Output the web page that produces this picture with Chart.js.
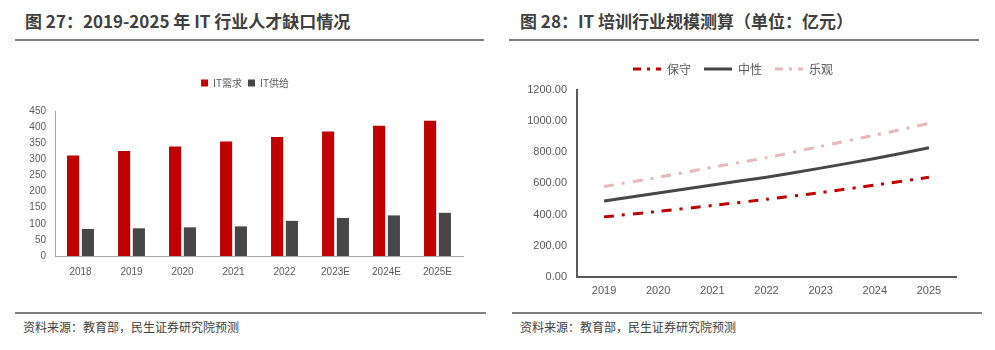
<!DOCTYPE html>
<html>
<head>
<meta charset="utf-8">
<script src="https://cdn.jsdelivr.net/npm/chart.js@4"></script>
<style>
  body { margin: 0; width: 995px; height: 350px; background: #fff; position: relative; overflow: hidden;
    font-family: "Noto Sans CJK SC", "Liberation Sans", sans-serif; }
  .title { position: absolute; top: 8px; font-size: 17px; font-weight: bold; color: #404040; white-space: nowrap; }
  .rule { position: absolute; height: 2px; background: #7f7f7f; }
  .src { position: absolute; top: 318px; font-size: 12px; color: #404040; }
  .box { position: absolute; }
</style>
</head>
<body>
<div class="title" style="left:25px">图 27：2019-2025 年 IT 行业人才缺口情况</div>
<div class="title" style="left:520px">图 28：IT 培训行业规模测算（单位：亿元）</div>
<div class="rule" style="left:15px; width:469px; top:39px"></div>
<div class="rule" style="left:509px; width:470px; top:39px"></div>
<div class="rule" style="left:15px; width:471px; top:312px"></div>
<div class="rule" style="left:512px; width:470px; top:312px"></div>
<div class="src" style="left:23px">资料来源：教育部，民生证券研究院预测</div>
<div class="src" style="left:520px">资料来源：教育部，民生证券研究院预测</div>

<div class="box" style="left:15px; top:50px; width:470px; height:238px"><canvas id="gapChart"></canvas></div>
<div class="box" style="left:510px; top:50px; width:470px; height:256px"><canvas id="marketChart"></canvas></div>

<script>
// left chart: IT talent demand vs supply (万人)
const gapYears = ['2018', '2019', '2020', '2021', '2022', '2023E', '2024E', '2025E'];
const itDemand = [312, 326, 340, 355, 369, 386, 404, 420];
const itSupply = [84, 86, 89, 92, 109, 118, 126, 134];

// right chart: IT training market size (亿元)
const marketYears = ['2019', '2020', '2021', '2022', '2023', '2024', '2025'];
const conservative = [385, 420, 458, 498, 541, 589, 639];
const neutral = [487, 538, 590, 640, 698, 760, 829];
const optimistic = [580, 639, 704, 765, 838, 910, 985];

const tickFont = { family: '"Liberation Sans", sans-serif', size: 10 };

// push the plot area down below the legend
const legendGap = (extra) => ({
  id: 'legendGap',
  beforeInit(chart) {
    const fit = chart.legend.fit;
    chart.legend.fit = function () {
      fit.bind(chart.legend)();
      this.height += extra;
    };
  }
});

new Chart(document.getElementById('gapChart').getContext('2d'), {
  type: 'bar',
  data: {
    labels: gapYears,
    datasets: [
      { label: 'IT需求', data: itDemand, backgroundColor: '#C00000' },
      { label: 'IT供给', data: itSupply, backgroundColor: '#474747' }
    ]
  },
  options: {
    responsive: true,
    maintainAspectRatio: false,
    animation: false,
    layout: { padding: { left: 12, right: 22, top: 22, bottom: 0 } },
    datasets: { bar: { categoryPercentage: 0.58, barPercentage: 0.82 } },
    plugins: {
      legend: {
        position: 'top',
        labels: { boxWidth: 7, boxHeight: 7, padding: 6, color: '#595959',
          font: { family: '"Noto Sans CJK SC", sans-serif', size: 10 } }
      },
      tooltip: { enabled: false }
    },
    scales: {
      x: {
        grid: { display: false, drawTicks: false },
        border: { color: '#a6a6a6', width: 1 },
        ticks: { color: '#595959', font: tickFont, padding: 10 }
      },
      y: {
        min: 0, max: 450,
        grid: { display: false, drawTicks: false },
        border: { color: '#a6a6a6', width: 1 },
        afterFit: (s) => { s.width = 28; },
        ticks: { stepSize: 50, color: '#595959', font: tickFont, padding: 9 }
      }
    }
  },
  plugins: [legendGap(13)]
});

new Chart(document.getElementById('marketChart').getContext('2d'), {
  type: 'line',
  data: {
    labels: marketYears,
    datasets: [
      { label: '保守', data: conservative, borderColor: '#C00000', backgroundColor: '#C00000',
        borderWidth: 3, borderDash: [10, 8, 3, 8], pointRadius: 0, tension: 0.2 },
      { label: '中性', data: neutral, borderColor: '#474747', backgroundColor: '#474747',
        borderWidth: 3, pointRadius: 0, tension: 0.2 },
      { label: '乐观', data: optimistic, borderColor: '#E6B9B8', backgroundColor: '#E6B9B8',
        borderWidth: 3, borderDash: [10, 8, 3, 8], pointRadius: 0, tension: 0.2 }
    ]
  },
  options: {
    responsive: true,
    maintainAspectRatio: false,
    animation: false,
    layout: { padding: { left: 0, right: 24, top: 0, bottom: 0 } },
    plugins: {
      legend: {
        position: 'top',
        labels: {
          usePointStyle: true, pointStyle: 'line', pointStyleWidth: 28,
          padding: 13, color: '#595959', font: { family: '"Noto Sans CJK SC", sans-serif', size: 12 },
          generateLabels: (chart) => Chart.defaults.plugins.legend.labels.generateLabels(chart).map((item) => {
            const ds = chart.data.datasets[item.datasetIndex];
            item.lineDash = ds.borderDash ? [8, 6, 3, 6] : [];
            item.lineWidth = 3;
            return item;
          })
        }
      },
      tooltip: { enabled: false }
    },
    scales: {
      x: {
        offset: true,
        grid: { display: false, drawTicks: false },
        border: { color: '#595959', width: 2 },
        ticks: { color: '#595959', font: { family: '"Liberation Sans", sans-serif', size: 11 }, padding: 8 }
      },
      y: {
        min: 0, max: 1200,
        grid: { display: false, drawTicks: false },
        border: { color: '#595959', width: 2 },
        afterFit: (s) => { s.width = 67; },
        ticks: {
          stepSize: 200, color: '#595959', padding: 10,
          font: { family: '"Liberation Sans", sans-serif', size: 11 },
          callback: (v) => Number(v).toFixed(2)
        }
      }
    }
  },
  plugins: [legendGap(5)]
});
</script>
</body>
</html>
